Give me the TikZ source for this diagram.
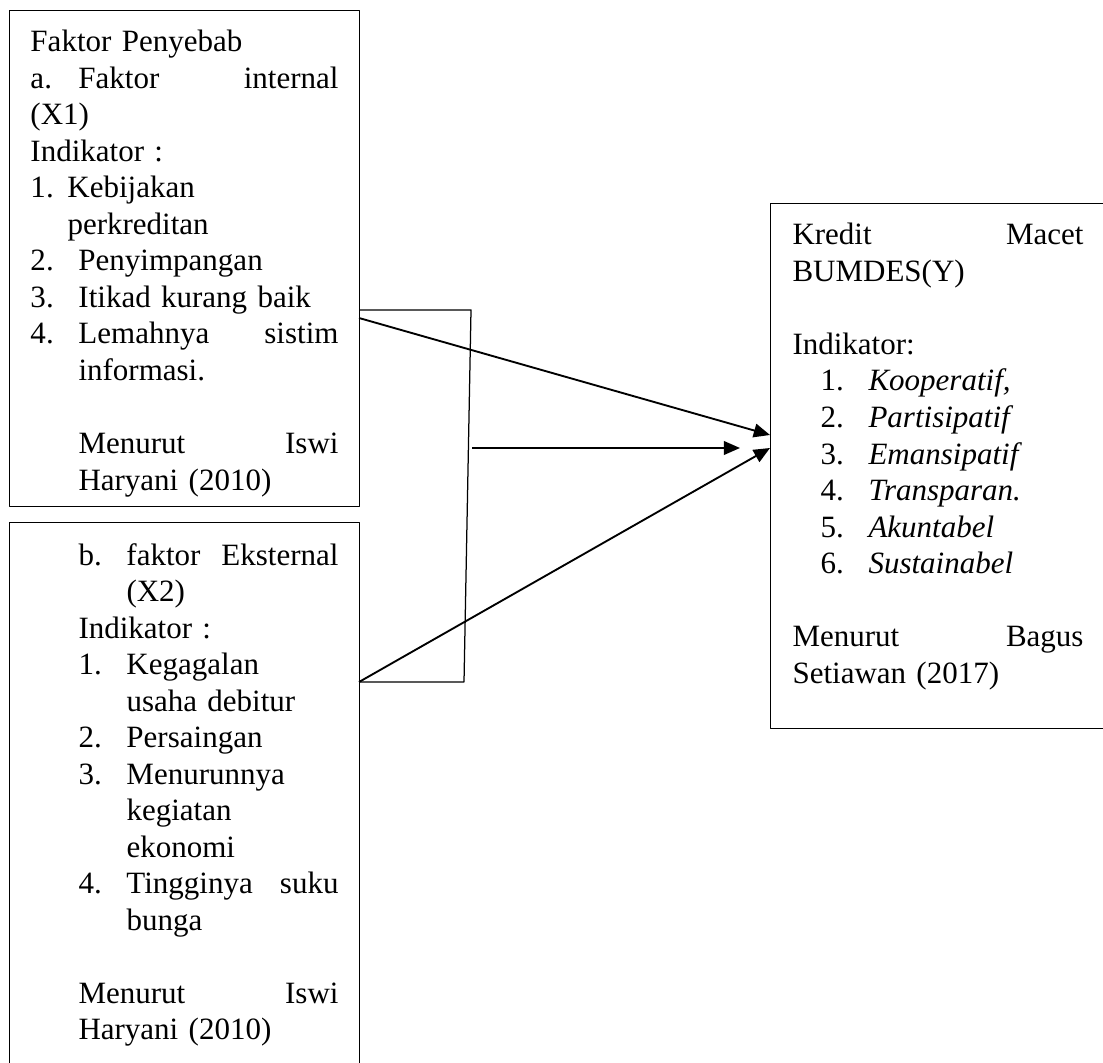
\documentclass[tikz,border=0pt]{standalone}
\usepackage{fontspec}
\setmainfont{Liberation Serif}
\usetikzlibrary{arrows.meta}
\newcommand{\nom}[2][19.2pt]{\makebox[#1][l]{#2}}

\begin{document}
\begin{tikzpicture}[x=.4pt,y=-.4pt,line join=round,
  kotak/.style={draw,line width=.5pt,anchor=north west,inner sep=0pt},
  isi/.style={anchor=base west,inner sep=0pt,text width=#1,font=\fontsize{12.4}{14.6}\selectfont},
  panah/.style={line width=.75pt,-{Triangle[length=6.5pt,width=5.5pt]}}]
 \useasboundingbox (0,0) rectangle (1103,1063);
 % kotak
 \node[kotak,minimum width=140pt,minimum height=198.4pt] (fakint) at (9,10) {};
 \node[kotak,minimum width=140pt,minimum height=230pt] (fakeks) at (9,522) {};
 \node[kotak,minimum width=146pt,minimum height=210pt] (kredit) at (770,203) {};
 % isi kotak
 \node[isi=123.2pt] (fakinttxt) at (30,52) {Faktor Penyebab\\
  \nom{a.}Faktor\hfill internal\\
  (X1)\\
  Indikator :\\
  \nom[14.8pt]{1.}Kebijakan\\
  \hspace*{14.8pt}perkreditan\\
  \nom{2.}Penyimpangan\\
  \nom{3.}Itikad kurang baik\\
  \nom{4.}Lemahnya\hfill sistim\\
  \hspace*{19.2pt}informasi.\\[14.6pt]
  \hspace*{19.2pt}Menurut\hfill Iswi\\
  \hspace*{19.2pt}Haryani (2010)};
 \node[isi=123.2pt] (fakekstxt) at (30,565) {\hspace*{19.2pt}\nom{b.}faktor\hfill Eksternal\\
  \hspace*{38.4pt}(X2)\\
  \hspace*{19.2pt}Indikator :\\
  \hspace*{19.2pt}\nom{1.}Kegagalan\\
  \hspace*{38.4pt}usaha debitur\\
  \hspace*{19.2pt}\nom{2.}Persaingan\\
  \hspace*{19.2pt}\nom{3.}Menurunnya\\
  \hspace*{38.4pt}kegiatan\\
  \hspace*{38.4pt}ekonomi\\
  \hspace*{19.2pt}\nom{4.}Tingginya\hfill suku\\
  \hspace*{38.4pt}bunga\\[14.6pt]
  \hspace*{19.2pt}Menurut\hfill Iswi\\
  \hspace*{19.2pt}Haryani (2010)};
 \node[isi=116.4pt] (kredittxt) at (792,245) {Kredit\hfill Macet\\
  BUMDES(Y)\\[14.6pt]
  Indikator:\\
  \hspace*{11.2pt}\nom{1.}\textit{Kooperatif,}\\
  \hspace*{11.2pt}\nom{2.}\textit{Partisipatif}\\
  \hspace*{11.2pt}\nom{3.}\textit{Emansipatif}\\
  \hspace*{11.2pt}\nom{4.}\textit{Transparan.}\\
  \hspace*{11.2pt}\nom{5.}\textit{Akuntabel}\\
  \hspace*{11.2pt}\nom{6.}\textit{Sustainabel}\\[14.6pt]
  Menurut\hfill Bagus\\
  Setiawan (2017)};
 % titik sambung
 \coordinate (x1a) at (359,318);\coordinate (x1b) at (359,310);
 \coordinate (x2a) at (359,682);
 \coordinate (kb) at (471,310);\coordinate (kc) at (464,682);
 \coordinate (ka) at (472,448);\coordinate (kd) at (740,448);
 \coordinate (ya) at (770,435);\coordinate (yb) at (770,448);
 \draw[line width=.5pt] (x1b)--(kb)--(kc)--(x2a);
 \draw[panah] (x1a)--(ya);
 \draw[panah] (ka)--(kd);
 \draw[panah] (x2a)--(yb);
\end{tikzpicture}
\end{document}
